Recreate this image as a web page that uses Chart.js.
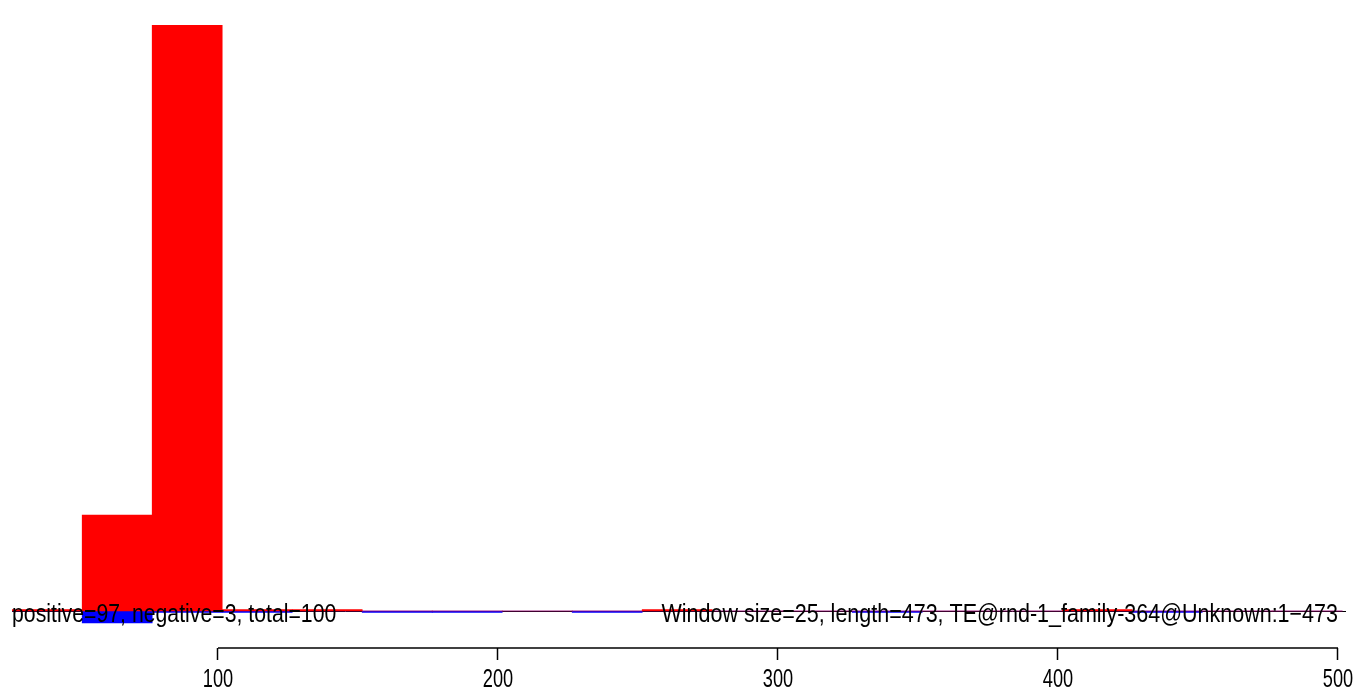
<!DOCTYPE html>
<html>
<head>
<meta charset="utf-8">
<script src="https://cdn.jsdelivr.net/npm/chart.js@4"></script>
<style>
    body { margin: 0; background: #fff; }
    #wrap { width: 1358px; height: 697px; position: relative; }
</style>
</head>
<body>
<div id="wrap"><canvas id="myChart"></canvas></div>
<script>
// datos del grafico
const binCenters = [39, 64, 89, 114, 139, 164, 189, 214, 239, 264, 289, 314, 339, 364, 389, 414, 439, 464, 489];
const positiveValues = [0.2, 13.6, 83, 0.2, 0.2, 0, 0, 0, 0, 0.2, 0, 0, 0, 0, 0, 0.2, 0, 0, 0];
const negativeValues = [0, -1.7, -0.2, -0.2, 0, -0.2, -0.2, 0, -0.2, 0, 0, 0, -0.2, 0, 0, 0, -0.2, 0, 0];
const tickValues = [100, 200, 300, 400, 500];
const windowSize = 25;
const seqLength = 473;
const positiveCount = 97;
const negativeCount = 3;
const seqName = 'TE@rnd-1_family-364@Unknown';

const leftText = `positive=${positiveCount}, negative=${negativeCount}, total=${positiveCount + negativeCount}`;
const rightText = `Window size=${windowSize}, length=${seqLength}, ${seqName}:1\u2212${seqLength}`;

// texto estrecho como el de R
function narrowText(ctx, text, x, y, align, size, sx) {
    ctx.save();
    ctx.translate(x, y);
    ctx.scale(sx, 1);
    ctx.font = size + 'px "Liberation Sans", Arial, sans-serif';
    ctx.textAlign = align;
    ctx.fillText(text, 0, 0);
    ctx.restore();
}

// linea base, eje x y textos
const extras = {
    id: 'extras',
    beforeDatasetsDraw(chart) {
        const { ctx, chartArea, scales } = chart;
        const y0 = scales.y.getPixelForValue(0);
        ctx.save();
        ctx.strokeStyle = '#000';
        ctx.lineWidth = 1;
        ctx.beginPath();
        ctx.moveTo(chartArea.left, y0 + 0.5);
        ctx.lineTo(chartArea.right, y0 + 0.5);
        ctx.stroke();
        ctx.restore();
    },
    afterDraw(chart) {
        const { ctx, chartArea, scales } = chart;
        const x = scales.x;
        const y0 = scales.y.getPixelForValue(0);
        ctx.save();
        // eje x solo entre 100 y 500
        ctx.strokeStyle = '#000';
        ctx.lineWidth = 1.5;
        ctx.beginPath();
        ctx.moveTo(x.getPixelForValue(tickValues[0]), chartArea.bottom);
        ctx.lineTo(x.getPixelForValue(tickValues[tickValues.length - 1]), chartArea.bottom);
        ctx.stroke();

        ctx.fillStyle = '#000';
        ctx.textBaseline = 'alphabetic';
        tickValues.forEach(v => {
            narrowText(ctx, String(v), x.getPixelForValue(v), chartArea.bottom + 39, 'center', 26, 0.7);
        });
        narrowText(ctx, leftText, chartArea.left, y0 + 11, 'left', 25, 0.85);
        narrowText(ctx, rightText, x.getPixelForValue(500), y0 + 11, 'right', 25, 0.86);
        ctx.restore();
    }
};

const ctx = document.getElementById('myChart').getContext('2d');
new Chart(ctx, {
    type: 'bar',
    data: {
        datasets: [
            {
                label: 'positive',
                data: binCenters.map((c, i) => ({ x: c, y: positiveValues[i] })),
                backgroundColor: '#FF0000',
                borderWidth: 0,
                grouped: false,
                barPercentage: 1,
                categoryPercentage: 1
            },
            {
                label: 'negative',
                data: binCenters.map((c, i) => ({ x: c, y: negativeValues[i] })),
                backgroundColor: '#0000FF',
                borderWidth: 0,
                grouped: false,
                barPercentage: 1,
                categoryPercentage: 1
            }
        ]
    },
    options: {
        responsive: true,
        maintainAspectRatio: false,
        animation: false,
        layout: {
            padding: { left: 12, right: 12, top: 25, bottom: 37 }
        },
        plugins: {
            legend: { display: false },
            tooltip: { enabled: false }
        },
        scales: {
            x: {
                type: 'linear',
                min: 26.43,
                max: 502.86,
                offset: false,
                afterBuildTicks: (axis) => {
                    axis.ticks = tickValues.map(v => ({ value: v }));
                },
                border: { display: false },
                grid: {
                    offset: false,
                    drawOnChartArea: false,
                    drawTicks: true,
                    tickLength: 12,
                    tickColor: '#000',
                    tickWidth: 1.5
                },
                ticks: { display: false }
            },
            y: {
                display: false,
                min: -5.24,
                max: 83
            }
        }
    },
    plugins: [extras]
});
</script>
</body>
</html>
